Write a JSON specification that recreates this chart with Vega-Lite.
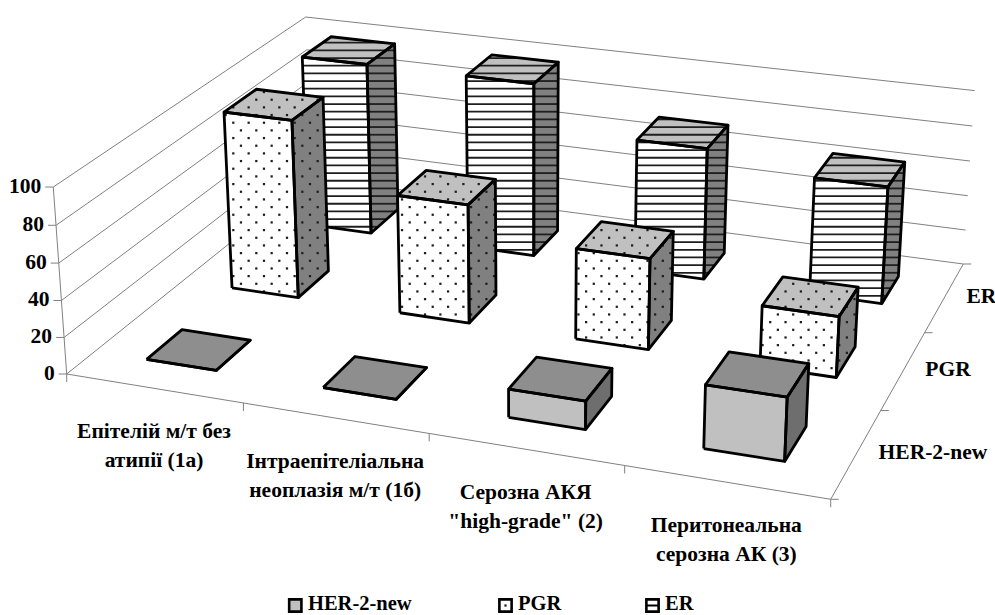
{
"$schema":"https://vega.github.io/schema/vega-lite/v6.json",
"width":995,"height":615,"padding":0,"autosize":{"type":"none"},"background":"white",
"config":{"view":{"stroke":null},"axis":{"grid":false},"text":{"font":"Liberation Serif","fontWeight":"bold","fontSize":21.5,"color":"black"}},
"layer":[
{"data":{"values":[{"value":0},{"value":20},{"value":40},{"value":60},{"value":80},{"value":100}]},
 "transform":[
 {"calculate":"datum.value/100","as":"z"},
 {"calculate":"(66.7-14.9*datum.z)/(1-0.028*datum.z)","as":"lx"},
 {"calculate":"(374-192.2*datum.z)/(1-0.028*datum.z)","as":"ly"},
 {"calculate":"(370.4-14.9*datum.z)/(1.191-0.028*datum.z)","as":"bx"},
 {"calculate":"(212-192.2*datum.z)/(1.191-0.028*datum.z)","as":"by"},
 {"calculate":"(1053.65-14.9*datum.z)/(1.09379-0.028*datum.z)","as":"rx"},
 {"calculate":"(288.76-192.2*datum.z)/(1.09379-0.028*datum.z)","as":"ry"},
 {"calculate":"datum.lx-8","as":"tx"},
 {"calculate":"datum.lx-12","as":"labx"},
 {"calculate":"66.7","as":"ax"},{"calculate":"374","as":"ay"}],
 "layer":[
 {"mark":{"type":"rule","color":"#808080","strokeWidth":1},"encoding":{
  "x":{"field":"lx","type":"quantitative","scale":{"domain":[0,995],"range":[0,995],"nice":false,"zero":false},"axis":null},
  "y":{"field":"ly","type":"quantitative","scale":{"domain":[0,615],"range":[0,615],"nice":false,"zero":false},"axis":null},
  "x2":{"field":"bx"},"y2":{"field":"by"}}},
 {"mark":{"type":"rule","color":"#808080","strokeWidth":1},"encoding":{
  "x":{"field":"bx","type":"quantitative","scale":{"domain":[0,995],"range":[0,995],"nice":false,"zero":false},"axis":null},"y":{"field":"by","type":"quantitative","scale":{"domain":[0,615],"range":[0,615],"nice":false,"zero":false},"axis":null},
  "x2":{"field":"rx"},"y2":{"field":"ry"}}},
 {"mark":{"type":"rule","color":"#808080","strokeWidth":1},"encoding":{
  "x":{"field":"tx","type":"quantitative","scale":{"domain":[0,995],"range":[0,995],"nice":false,"zero":false},"axis":null},"y":{"field":"ly","type":"quantitative","scale":{"domain":[0,615],"range":[0,615],"nice":false,"zero":false},"axis":null},
  "x2":{"field":"lx"},"y2":{"field":"ly"}}},
 {"transform":[{"filter":"datum.value==100"}],"mark":{"type":"rule","color":"#808080","strokeWidth":1},"encoding":{
  "x":{"field":"lx","type":"quantitative","scale":{"domain":[0,995],"range":[0,995],"nice":false,"zero":false},"axis":null},"y":{"field":"ly","type":"quantitative","scale":{"domain":[0,615],"range":[0,615],"nice":false,"zero":false},"axis":null},
  "x2":{"field":"ax"},"y2":{"field":"ay"}}},
 {"mark":{"type":"text","align":"right","baseline":"middle"},"encoding":{
  "x":{"field":"labx","type":"quantitative","scale":{"domain":[0,995],"range":[0,995],"nice":false,"zero":false},"axis":null},"y":{"field":"ly","type":"quantitative","scale":{"domain":[0,615],"range":[0,615],"nice":false,"zero":false},"axis":null},
  "text":{"field":"value","type":"nominal"}}}
 ]},
{"data":{"values":[{"t":0},{"t":0.25},{"t":0.5},{"t":0.75},{"t":1}]},
 "transform":[
 {"calculate":"(66.7+683.25*datum.t)/(1-0.09721*datum.t)","as":"px"},
 {"calculate":"(374+76.76*datum.t)/(1-0.09721*datum.t)","as":"py"},
 {"calculate":"datum.py+8","as":"py2"},
 {"calculate":"66.7","as":"ax"},{"calculate":"374","as":"ay"}],
 "layer":[
 {"mark":{"type":"rule","color":"#808080","strokeWidth":1},"encoding":{
  "x":{"field":"px","type":"quantitative","scale":{"domain":[0,995],"range":[0,995],"nice":false,"zero":false},"axis":null},"y":{"field":"py","type":"quantitative","scale":{"domain":[0,615],"range":[0,615],"nice":false,"zero":false},"axis":null},
  "x2":{"field":"px"},"y2":{"field":"py2"}}},
 {"transform":[{"filter":"datum.t==1"}],"mark":{"type":"rule","color":"#808080","strokeWidth":1},"encoding":{
  "x":{"field":"px","type":"quantitative","scale":{"domain":[0,995],"range":[0,995],"nice":false,"zero":false},"axis":null},"y":{"field":"py","type":"quantitative","scale":{"domain":[0,615],"range":[0,615],"nice":false,"zero":false},"axis":null},
  "x2":{"field":"ax"},"y2":{"field":"ay"}}}
 ]},
{"data":{"values":[{"t":0},{"t":0.3333},{"t":0.6667},{"t":1}]},
 "transform":[
 {"calculate":"(749.95+303.7*datum.t)/(0.90279+0.191*datum.t)","as":"px"},
 {"calculate":"(450.76-162*datum.t)/(0.90279+0.191*datum.t)","as":"py"},
 {"calculate":"datum.px+8","as":"px2"},
 {"calculate":"830.7","as":"ax"},{"calculate":"499.3","as":"ay"}],
 "layer":[
 {"mark":{"type":"rule","color":"#808080","strokeWidth":1},"encoding":{
  "x":{"field":"px","type":"quantitative","scale":{"domain":[0,995],"range":[0,995],"nice":false,"zero":false},"axis":null},"y":{"field":"py","type":"quantitative","scale":{"domain":[0,615],"range":[0,615],"nice":false,"zero":false},"axis":null},
  "x2":{"field":"px2"},"y2":{"field":"py"}}},
 {"transform":[{"filter":"datum.t==1"}],"mark":{"type":"rule","color":"#808080","strokeWidth":1},"encoding":{
  "x":{"field":"px","type":"quantitative","scale":{"domain":[0,995],"range":[0,995],"nice":false,"zero":false},"axis":null},"y":{"field":"py","type":"quantitative","scale":{"domain":[0,615],"range":[0,615],"nice":false,"zero":false},"axis":null},
  "x2":{"field":"ax"},"y2":{"field":"ay"}}}
 ]},
{"data":{"values":[
 {"category":"Епітелій м/т без\nатипії (1а)","series":"HER-2-new","value":0},
 {"category":"Інтраепітеліальна\nнеоплазія м/т (1б)","series":"HER-2-new","value":0},
 {"category":"Серозна АКЯ\n\"high-grade\" (2)","series":"HER-2-new","value":15},
 {"category":"Перитонеальна\nсерозна АК (3)","series":"HER-2-new","value":33},
 {"category":"Епітелій м/т без\nатипії (1а)","series":"PGR","value":100},
 {"category":"Інтраепітеліальна\nнеоплазія м/т (1б)","series":"PGR","value":66},
 {"category":"Серозна АКЯ\n\"high-grade\" (2)","series":"PGR","value":50},
 {"category":"Перитонеальна\nсерозна АК (3)","series":"PGR","value":33},
 {"category":"Епітелій м/т без\nатипії (1а)","series":"ER","value":100},
 {"category":"Інтраепітеліальна\nнеоплазія м/т (1б)","series":"ER","value":100},
 {"category":"Серозна АКЯ\n\"high-grade\" (2)","series":"ER","value":75},
 {"category":"Перитонеальна\nсерозна АК (3)","series":"ER","value":66}
 ]},
 "transform":[
 {"calculate":"indexof(['Еп','Ін','Се','Пе'],slice(datum.category,0,2))","as":"c"},
 {"calculate":"indexof(['HER-2-new','PGR','ER'],datum.series)","as":"s"},
 {"calculate":"(datum.c+0.3)/4","as":"X0"},{"calculate":"(datum.c+0.7)/4","as":"X1"},
 {"calculate":"(datum.s+0.3)/3","as":"Y0"},{"calculate":"(datum.s+0.7)/3","as":"Y1"},
 {"calculate":"datum.value/100","as":"Z"},
 {"calculate":"['front','side','top']","as":"face"},
 {"flatten":["face"]},
 {"calculate":"datum.face=='side'?[datum.X1,datum.X1,datum.X1,datum.X1]:[datum.X0,datum.X1,datum.X1,datum.X0]","as":"vX"},
 {"calculate":"datum.face=='front'?[datum.Y0,datum.Y0,datum.Y0,datum.Y0]:datum.face=='side'?[datum.Y0,datum.Y1,datum.Y1,datum.Y0]:[datum.Y0,datum.Y0,datum.Y1,datum.Y1]","as":"vY"},
 {"calculate":"datum.face=='top'?[datum.Z,datum.Z,datum.Z,datum.Z]:[0,0,datum.Z,datum.Z]","as":"vZ"},
 {"calculate":"(66.7+683.25*datum.vX[0]+303.7*datum.vY[0]-14.9*datum.vZ[0])/(1-0.09721*datum.vX[0]+0.191*datum.vY[0]-0.028*datum.vZ[0])","as":"px0"},
 {"calculate":"(66.7+683.25*datum.vX[1]+303.7*datum.vY[1]-14.9*datum.vZ[1])/(1-0.09721*datum.vX[1]+0.191*datum.vY[1]-0.028*datum.vZ[1])","as":"px1"},
 {"calculate":"(66.7+683.25*datum.vX[2]+303.7*datum.vY[2]-14.9*datum.vZ[2])/(1-0.09721*datum.vX[2]+0.191*datum.vY[2]-0.028*datum.vZ[2])","as":"px2"},
 {"calculate":"(66.7+683.25*datum.vX[3]+303.7*datum.vY[3]-14.9*datum.vZ[3])/(1-0.09721*datum.vX[3]+0.191*datum.vY[3]-0.028*datum.vZ[3])","as":"px3"},
 {"calculate":"(374+76.76*datum.vX[0]-162*datum.vY[0]-192.2*datum.vZ[0])/(1-0.09721*datum.vX[0]+0.191*datum.vY[0]-0.028*datum.vZ[0])","as":"py0"},
 {"calculate":"(374+76.76*datum.vX[1]-162*datum.vY[1]-192.2*datum.vZ[1])/(1-0.09721*datum.vX[1]+0.191*datum.vY[1]-0.028*datum.vZ[1])","as":"py1"},
 {"calculate":"(374+76.76*datum.vX[2]-162*datum.vY[2]-192.2*datum.vZ[2])/(1-0.09721*datum.vX[2]+0.191*datum.vY[2]-0.028*datum.vZ[2])","as":"py2"},
 {"calculate":"(374+76.76*datum.vX[3]-162*datum.vY[3]-192.2*datum.vZ[3])/(1-0.09721*datum.vX[3]+0.191*datum.vY[3]-0.028*datum.vZ[3])","as":"py3"},
 {"calculate":"datum.series=='HER-2-new'?(datum.face=='front'?'#c0c0c0':datum.face=='side'?'#6e6e6e':'#8e8e8e'):(datum.face=='front'?'#ffffff':datum.face=='side'?'#808080':'#c0c0c0')","as":"fillc"},
 {"calculate":"datum.c+'-'+datum.face","as":"key"},
 {"calculate":"[0,1,2,3,4,5,6,7,8,9,10,11,12,13,14,15,16,17,18,19,20,21,22,23,24,25,26,27,28,29,30,31,32,33,34,35,36,37,38,39,40,41,42,43,44,45,46,47,48,49,50,51,52,53,54,55,56,57,58,59,60,61,62,63,64,65,66,67,68,69,70]","as":"ks"},
 {"calculate":"[0,1,2,3,4]","as":"vs"}
 ],
 "layer":[
 {"transform":[{"filter":"datum.series=='ER'"},{"flatten":["vs"]},{"calculate":"[datum.px0,datum.px1,datum.px2,datum.px3,datum.px0][datum.vs]","as":"px"},{"calculate":"[datum.py0,datum.py1,datum.py2,datum.py3,datum.py0][datum.vs]","as":"py"}],
  "mark":{"type":"line","filled":true,"strokeWidth":0},
  "encoding":{"x":{"field":"px","type":"quantitative","scale":{"domain":[0,995],"range":[0,995],"nice":false,"zero":false},"axis":null},"y":{"field":"py","type":"quantitative","scale":{"domain":[0,615],"range":[0,615],"nice":false,"zero":false},"axis":null},"fill":{"field":"fillc","type":"nominal","scale":null,"legend":null},"detail":{"field":"key"},"order":{"field":"vs","type":"quantitative"}}},
 {"transform":[{"filter":"datum.series=='ER'"},{"flatten":["ks"]},{"calculate":"datum.ks*7.67+4.34","as":"ys"},
  {"calculate":"(datum.ys-datum.py0)*(datum.ys-datum.py1)<=0&&datum.py0!=datum.py1?datum.px0+(datum.ys-datum.py0)/(datum.py1-datum.py0)*(datum.px1-datum.px0):100000","as":"e0"},
  {"calculate":"(datum.ys-datum.py1)*(datum.ys-datum.py2)<=0&&datum.py1!=datum.py2?datum.px1+(datum.ys-datum.py1)/(datum.py2-datum.py1)*(datum.px2-datum.px1):100000","as":"e1"},
  {"calculate":"(datum.ys-datum.py2)*(datum.ys-datum.py3)<=0&&datum.py2!=datum.py3?datum.px2+(datum.ys-datum.py2)/(datum.py3-datum.py2)*(datum.px3-datum.px2):100000","as":"e2"},
  {"calculate":"(datum.ys-datum.py3)*(datum.ys-datum.py0)<=0&&datum.py3!=datum.py0?datum.px3+(datum.ys-datum.py3)/(datum.py0-datum.py3)*(datum.px0-datum.px3):100000","as":"e3"},
  {"calculate":"min(datum.e0,datum.e1,datum.e2,datum.e3)","as":"lo"},
  {"calculate":"max(datum.e0<100000?datum.e0:-1,datum.e1<100000?datum.e1:-1,datum.e2<100000?datum.e2:-1,datum.e3<100000?datum.e3:-1)","as":"hi"},
  {"filter":"datum.lo<100000&&datum.hi>datum.lo"}],
  "mark":{"type":"rule","color":"#1e1e1e","strokeWidth":1.8},
  "encoding":{"x":{"field":"lo","type":"quantitative","scale":{"domain":[0,995],"range":[0,995],"nice":false,"zero":false},"axis":null},"x2":{"field":"hi"},"y":{"field":"ys","type":"quantitative","scale":{"domain":[0,615],"range":[0,615],"nice":false,"zero":false},"axis":null}}},
 {"transform":[{"filter":"datum.series=='ER'"},{"flatten":["vs"]},{"calculate":"[datum.px0,datum.px1,datum.px2,datum.px3,datum.px0][datum.vs]","as":"px"},{"calculate":"[datum.py0,datum.py1,datum.py2,datum.py3,datum.py0][datum.vs]","as":"py"}],
  "mark":{"type":"line","color":"black","strokeWidth":2.8,"strokeJoin":"round"},
  "encoding":{"x":{"field":"px","type":"quantitative","scale":{"domain":[0,995],"range":[0,995],"nice":false,"zero":false},"axis":null},"y":{"field":"py","type":"quantitative","scale":{"domain":[0,615],"range":[0,615],"nice":false,"zero":false},"axis":null},"detail":{"field":"key"},"order":{"field":"vs","type":"quantitative"}}},

 {"transform":[{"filter":"datum.series=='PGR'"},{"flatten":["vs"]},{"calculate":"[datum.px0,datum.px1,datum.px2,datum.px3,datum.px0][datum.vs]","as":"px"},{"calculate":"[datum.py0,datum.py1,datum.py2,datum.py3,datum.py0][datum.vs]","as":"py"}],
  "mark":{"type":"line","filled":true,"strokeWidth":0},
  "encoding":{"x":{"field":"px","type":"quantitative","scale":{"domain":[0,995],"range":[0,995],"nice":false,"zero":false},"axis":null},"y":{"field":"py","type":"quantitative","scale":{"domain":[0,615],"range":[0,615],"nice":false,"zero":false},"axis":null},"fill":{"field":"fillc","type":"nominal","scale":null,"legend":null},"detail":{"field":"key"},"order":{"field":"vs","type":"quantitative"}}},
 {"transform":[{"filter":"datum.series=='PGR'"},{"flatten":["ks"]},{"calculate":"datum.ks*7.67","as":"ys"},
  {"calculate":"(datum.ys-datum.py0)*(datum.ys-datum.py1)<=0&&datum.py0!=datum.py1?datum.px0+(datum.ys-datum.py0)/(datum.py1-datum.py0)*(datum.px1-datum.px0):100000","as":"e0"},
  {"calculate":"(datum.ys-datum.py1)*(datum.ys-datum.py2)<=0&&datum.py1!=datum.py2?datum.px1+(datum.ys-datum.py1)/(datum.py2-datum.py1)*(datum.px2-datum.px1):100000","as":"e1"},
  {"calculate":"(datum.ys-datum.py2)*(datum.ys-datum.py3)<=0&&datum.py2!=datum.py3?datum.px2+(datum.ys-datum.py2)/(datum.py3-datum.py2)*(datum.px3-datum.px2):100000","as":"e2"},
  {"calculate":"(datum.ys-datum.py3)*(datum.ys-datum.py0)<=0&&datum.py3!=datum.py0?datum.px3+(datum.ys-datum.py3)/(datum.py0-datum.py3)*(datum.px0-datum.px3):100000","as":"e3"},
  {"calculate":"min(datum.e0,datum.e1,datum.e2,datum.e3)","as":"lo"},
  {"calculate":"max(datum.e0<100000?datum.e0:-1,datum.e1<100000?datum.e1:-1,datum.e2<100000?datum.e2:-1,datum.e3<100000?datum.e3:-1)","as":"hi"},
  {"filter":"datum.lo<100000&&datum.hi>datum.lo"},
  {"calculate":"[0,1,2,3,4,5,6,7,8,9]","as":"ms"},{"flatten":["ms"]},
  {"calculate":"(datum.ks%2==0?3.2:10.87)+(floor(datum.lo/15.34)-1+datum.ms)*15.34","as":"dx"},
  {"filter":"datum.dx>datum.lo+1&&datum.dx<datum.hi-1"}],
  "mark":{"type":"point","shape":"square","filled":true,"size":5,"color":"#1e1e1e","opacity":1},
  "encoding":{"x":{"field":"dx","type":"quantitative","scale":{"domain":[0,995],"range":[0,995],"nice":false,"zero":false},"axis":null},"y":{"field":"ys","type":"quantitative","scale":{"domain":[0,615],"range":[0,615],"nice":false,"zero":false},"axis":null}}},
 {"transform":[{"filter":"datum.series=='PGR'"},{"flatten":["vs"]},{"calculate":"[datum.px0,datum.px1,datum.px2,datum.px3,datum.px0][datum.vs]","as":"px"},{"calculate":"[datum.py0,datum.py1,datum.py2,datum.py3,datum.py0][datum.vs]","as":"py"}],
  "mark":{"type":"line","color":"black","strokeWidth":2.8,"strokeJoin":"round"},
  "encoding":{"x":{"field":"px","type":"quantitative","scale":{"domain":[0,995],"range":[0,995],"nice":false,"zero":false},"axis":null},"y":{"field":"py","type":"quantitative","scale":{"domain":[0,615],"range":[0,615],"nice":false,"zero":false},"axis":null},"detail":{"field":"key"},"order":{"field":"vs","type":"quantitative"}}},

 {"transform":[{"filter":"datum.series=='HER-2-new'"},{"flatten":["vs"]},{"calculate":"[datum.px0,datum.px1,datum.px2,datum.px3,datum.px0][datum.vs]","as":"px"},{"calculate":"[datum.py0,datum.py1,datum.py2,datum.py3,datum.py0][datum.vs]","as":"py"}],
  "mark":{"type":"line","filled":true,"strokeWidth":0},
  "encoding":{"x":{"field":"px","type":"quantitative","scale":{"domain":[0,995],"range":[0,995],"nice":false,"zero":false},"axis":null},"y":{"field":"py","type":"quantitative","scale":{"domain":[0,615],"range":[0,615],"nice":false,"zero":false},"axis":null},"fill":{"field":"fillc","type":"nominal","scale":null,"legend":null},"detail":{"field":"key"},"order":{"field":"vs","type":"quantitative"}}},
 {"transform":[{"filter":"datum.series=='HER-2-new'"},{"flatten":["vs"]},{"calculate":"[datum.px0,datum.px1,datum.px2,datum.px3,datum.px0][datum.vs]","as":"px"},{"calculate":"[datum.py0,datum.py1,datum.py2,datum.py3,datum.py0][datum.vs]","as":"py"}],
  "mark":{"type":"line","color":"black","strokeWidth":2.8,"strokeJoin":"round"},
  "encoding":{"x":{"field":"px","type":"quantitative","scale":{"domain":[0,995],"range":[0,995],"nice":false,"zero":false},"axis":null},"y":{"field":"py","type":"quantitative","scale":{"domain":[0,615],"range":[0,615],"nice":false,"zero":false},"axis":null},"detail":{"field":"key"},"order":{"field":"vs","type":"quantitative"}}}
 ]},
{"data":{"values":[{"label":"Епітелій м/т без\nатипії (1а)","c":0},{"label":"Інтраепітеліальна\nнеоплазія м/т (1б)","c":1},{"label":"Серозна АКЯ\n\"high-grade\" (2)","c":2},{"label":"Перитонеальна\nсерозна АК (3)","c":3}]},
 "transform":[
 {"calculate":"(datum.c+0.5)/4","as":"t"},
 {"calculate":"(66.7+683.25*datum.t)/(1-0.09721*datum.t)","as":"lx"},
 {"calculate":"43.5+(374+76.76*datum.t)/(1-0.09721*datum.t)","as":"ly"}],
 "mark":{"type":"text","align":"center","baseline":"middle","lineBreak":"\n","lineHeight":29},
 "encoding":{"x":{"field":"lx","type":"quantitative","scale":{"domain":[0,995],"range":[0,995],"nice":false,"zero":false},"axis":null},"y":{"field":"ly","type":"quantitative","scale":{"domain":[0,615],"range":[0,615],"nice":false,"zero":false},"axis":null},"text":{"field":"label","type":"nominal"}}},
{"data":{"values":[{"series":"HER-2-new","s":0},{"series":"PGR","s":1},{"series":"ER","s":2}]},
 "transform":[
 {"calculate":"(datum.s+0.5)/3","as":"t"},
 {"calculate":"22+(749.95+303.7*datum.t)/(0.90279+0.191*datum.t)","as":"px"},
 {"calculate":"(450.76-162*datum.t)/(0.90279+0.191*datum.t)","as":"py"},
 {"calculate":"[295.3,505.5,652.5][datum.s]","as":"sx"},
 {"calculate":"[308,518,665][datum.s]","as":"tx"},
 {"calculate":"605.5","as":"sy"},
 {"calculate":"604","as":"ly"},
 {"calculate":"datum.sx-6","as":"e0"},{"calculate":"datum.sx+6","as":"e1"}],
 "layer":[
 {"mark":{"type":"text","align":"left","baseline":"middle"},"encoding":{"x":{"field":"px","type":"quantitative","scale":{"domain":[0,995],"range":[0,995],"nice":false,"zero":false},"axis":null},"y":{"field":"py","type":"quantitative","scale":{"domain":[0,615],"range":[0,615],"nice":false,"zero":false},"axis":null},"text":{"field":"series","type":"nominal"}}},
 {"mark":{"type":"text","align":"left","baseline":"middle","fontSize":20.5},"encoding":{"x":{"field":"tx","type":"quantitative","scale":{"domain":[0,995],"range":[0,995],"nice":false,"zero":false},"axis":null},"y":{"field":"ly","type":"quantitative","scale":{"domain":[0,615],"range":[0,615],"nice":false,"zero":false},"axis":null},"text":{"field":"series","type":"nominal"}}},
 {"mark":{"type":"point","shape":"square","size":150,"filled":false,"stroke":"black","strokeWidth":2.6,"opacity":1},"encoding":{"x":{"field":"sx","type":"quantitative","scale":{"domain":[0,995],"range":[0,995],"nice":false,"zero":false},"axis":null},"y":{"field":"sy","type":"quantitative","scale":{"domain":[0,615],"range":[0,615],"nice":false,"zero":false},"axis":null},"fill":{"field":"s","type":"nominal","scale":{"domain":[0,1,2],"range":["#c0c0c0","#ffffff","#ffffff"]},"legend":null}}},
 {"transform":[{"filter":"datum.s==2"}],"mark":{"type":"rule","color":"black","strokeWidth":2},"encoding":{"x":{"field":"e0","type":"quantitative","scale":{"domain":[0,995],"range":[0,995],"nice":false,"zero":false},"axis":null},"x2":{"field":"e1"},"y":{"field":"sy","type":"quantitative","scale":{"domain":[0,615],"range":[0,615],"nice":false,"zero":false},"axis":null}}},
 {"transform":[{"filter":"datum.s==1"}],"mark":{"type":"point","shape":"square","filled":true,"size":5,"color":"#1e1e1e","opacity":1},"encoding":{"x":{"field":"sx","type":"quantitative","scale":{"domain":[0,995],"range":[0,995],"nice":false,"zero":false},"axis":null},"y":{"field":"sy","type":"quantitative","scale":{"domain":[0,615],"range":[0,615],"nice":false,"zero":false},"axis":null}}}
 ]}
]}
